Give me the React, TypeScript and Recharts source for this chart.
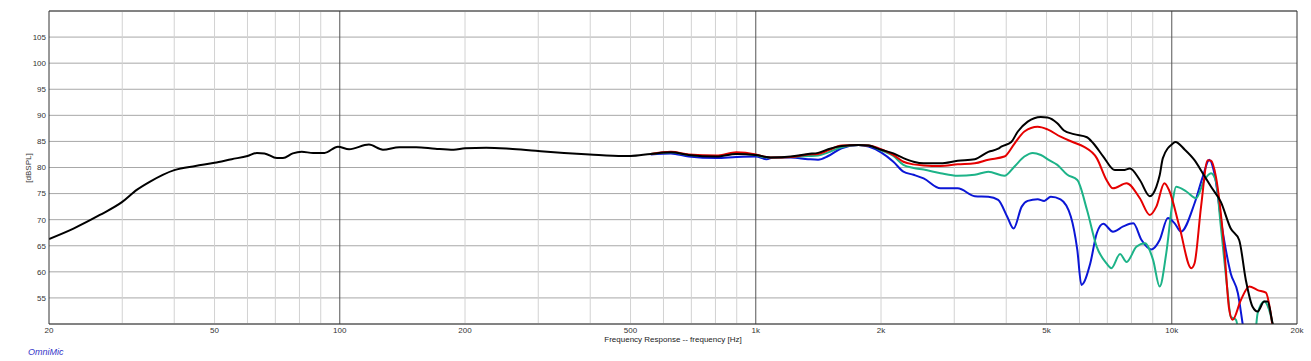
import { LineChart, Line, XAxis, YAxis, CartesianGrid, ReferenceLine } from "recharts";

// frequency [Hz] / level [dBSPL]
const blackFreq = [20, 22.9, 26.5, 30, 32.5, 35, 40, 45, 50, 55, 60, 63.2, 65.9, 70.6, 73, 77.1, 81, 86.3, 91.9, 99, 105.3, 117.5, 127, 139, 152.6, 169.6, 187.8, 200, 225, 256, 296, 346, 399, 480, 500, 559, 625, 690, 804, 898, 1000, 1061, 1103, 1214, 1336, 1412, 1493, 1608, 1766, 1867, 2000, 2142, 2264, 2395, 2532, 2780, 3058, 3362, 3623, 3826, 3892, 4113, 4266, 4505, 4846, 5026, 5307, 5506, 5815, 6253, 6483, 6845, 7300, 7644, 7931, 8380, 8855, 9180, 9352, 9519, 10060, 10200, 10750, 11340, 11870, 12430, 13120, 13860, 14520, 15070, 15640, 16080, 16680, 17000, 17480, 17800];
const blackDb = [66.3, 68.3, 70.9, 73.4, 75.7, 77.3, 79.5, 80.3, 80.9, 81.6, 82.2, 82.8, 82.7, 81.8, 81.8, 82.7, 83.0, 82.8, 82.8, 84.0, 83.5, 84.4, 83.4, 83.9, 83.9, 83.6, 83.4, 83.7, 83.8, 83.6, 83.2, 82.8, 82.5, 82.2, 82.2, 82.6, 82.9, 82.4, 82.1, 82.6, 82.4, 82.0, 81.9, 82.1, 82.6, 82.8, 83.5, 84.1, 84.3, 84.2, 83.4, 82.7, 81.8, 81.1, 80.8, 80.8, 81.3, 81.6, 83.0, 83.6, 84.0, 84.9, 86.9, 88.8, 89.7, 89.6, 88.5, 87.1, 86.4, 85.8, 84.6, 82.1, 79.5, 79.5, 79.8, 77.6, 74.5, 76.3, 78.5, 81.8, 84.6, 84.9, 83.4, 81.4, 78.9, 76.3, 73.4, 68.3, 66.1, 58.4, 53.3, 52.4, 54.3, 54.3, 50.1, 48];

const redFreq = [559, 625, 690, 804, 898, 1000, 1061, 1103, 1214, 1336, 1412, 1493, 1608, 1766, 1867, 2000, 2142, 2264, 2395, 2532, 2780, 3058, 3362, 3623, 3960, 4188, 4423, 4761, 5026, 5402, 5815, 6140, 6602, 6969, 7220, 7787, 8380, 8855, 9180, 9600, 9870, 10430, 11140, 11340, 11760, 12200, 12430, 12770, 13360, 13730, 14000, 14660, 15360, 16080, 16840, 17240, 17480, 17700];
const redDb = [82.6, 83.0, 82.5, 82.3, 82.9, 82.5, 82.0, 81.9, 82.0, 82.5, 82.6, 83.3, 84.2, 84.3, 84.2, 83.5, 82.4, 81.1, 80.6, 80.4, 80.3, 80.6, 80.8, 81.5, 82.1, 84.6, 86.9, 87.8, 87.3, 85.9, 84.8, 84.0, 81.8, 77.6, 76.0, 77.0, 74.1, 70.9, 72.5, 77.0, 75.5, 68.7, 60.7, 61.6, 72.5, 81.4, 81.3, 78.2, 64.8, 53.0, 50.8, 54.6, 57.2, 56.5, 56.0, 52.7, 49.5, 47];

const greenFreq = [559, 625, 690, 804, 898, 1000, 1061, 1103, 1214, 1336, 1412, 1493, 1608, 1766, 1867, 2000, 2142, 2264, 2395, 2532, 2780, 3058, 3362, 3623, 3960, 4188, 4423, 4631, 4846, 5072, 5307, 5612, 5928, 6253, 6602, 6969, 7158, 7511, 7787, 8221, 8620, 9016, 9352, 9700, 10060, 10240, 10840, 11440, 11980, 12430, 12770, 13120, 13610, 13860, 14270, 14600, 15800, 16080, 16680, 17000, 17480, 17700];
const greenDb = [82.6, 82.9, 82.4, 82.2, 82.7, 82.4, 81.9, 81.9, 82.0, 82.2, 82.3, 82.9, 83.9, 84.3, 84.2, 83.3, 82.2, 80.5, 79.9, 79.6, 78.9, 78.4, 78.6, 79.2, 78.4, 80.2, 82.1, 82.8, 82.4, 81.4, 80.5, 78.6, 77.6, 71.9, 64.8, 61.6, 60.7, 63.4, 61.9, 64.8, 65.5, 62.3, 57.2, 63.6, 73.8, 76.3, 75.4, 74.1, 77.6, 78.9, 77.3, 68.7, 56.5, 51.4, 50.8, 47, 47, 52.0, 54.3, 53.5, 49.8, 47];

const blueFreq = [559, 625, 690, 804, 898, 1000, 1061, 1103, 1214, 1336, 1412, 1493, 1608, 1766, 1867, 2000, 2142, 2264, 2395, 2532, 2780, 3058, 3362, 3623, 3826, 4020, 4166, 4358, 4505, 4761, 4936, 5119, 5402, 5719, 5928, 6064, 6368, 6602, 6845, 7220, 7644, 8081, 8458, 8937, 9352, 9788, 10160, 10520, 11340, 11870, 12310, 12660, 13240, 13860, 14420, 14800, 15000];
const blueDb = [82.5, 82.7, 82.1, 81.8, 82.0, 82.1, 81.6, 81.9, 81.9, 81.6, 81.5, 82.2, 83.7, 84.3, 84.0, 82.9, 81.1, 79.2, 78.6, 77.9, 76.0, 76.0, 74.5, 74.4, 73.8, 70.6, 68.3, 72.5, 73.6, 73.9, 73.6, 74.4, 73.9, 70.6, 64.2, 57.5, 61.6, 67.4, 69.2, 67.7, 68.7, 69.3, 66.1, 64.3, 66.1, 70.3, 69.3, 67.7, 73.1, 78.2, 81.5, 78.9, 68.0, 59.7, 55.9, 50.1, 47];

const xTicks = [20, 50, 100, 200, 500, 1000, 2000, 5000, 10000, 20000];
const yTicks = [55, 60, 65, 70, 75, 80, 85, 90, 95, 100, 105];
const minorGrid = [30, 40, 50, 60, 70, 80, 90, 200, 300, 400, 500, 600, 700, 800, 900, 2000, 3000, 4000, 5000, 6000, 7000, 8000, 9000];
const majorGrid = [100, 1000, 10000];

const zip = (fs: number[], ds: number[]) => fs.map((f, i) => ({ f, db: ds[i] }));

const font = "'Liberation Sans', Arial, sans-serif";
const tickStyle = { fill: "#333", fontSize: 8, fontFamily: font };

const fmtHz = (v: number) => (v >= 1000 ? `${v / 1000}k` : `${v}`);

export default function App() {
  return (
    <div style={{ position: "absolute", left: 0, top: 0, width: 1311, height: 361, background: "#fff" }}>
      <LineChart width={1311} height={361} margin={{ top: 11, right: 14, bottom: 0, left: 0 }}>
        <CartesianGrid vertical={false} stroke="#a8a8a8" />
        {minorGrid.map((f) => (
          <ReferenceLine key={"m" + f} x={f} stroke="#d2d2d2" />
        ))}
        {majorGrid.map((f) => (
          <ReferenceLine key={"M" + f} x={f} stroke="#555" />
        ))}
        <ReferenceLine y={110} stroke="#333" />
        <ReferenceLine x={20000} stroke="#333" />
        <XAxis
          dataKey="f"
          type="number"
          scale="log"
          domain={[20, 20000]}
          ticks={xTicks}
          tickFormatter={fmtHz}
          allowDataOverflow
          height={37}
          tickLine={false}
          tickSize={0}
          tickMargin={3}
          stroke="#333"
          tick={tickStyle}
          label={{
            value: "Frequency Response -- frequency [Hz]",
            position: "insideBottom",
            offset: 19,
            style: { fill: "#222", fontSize: 8, fontFamily: font },
          }}
        />
        <YAxis
          type="number"
          domain={[50, 110]}
          ticks={yTicks}
          allowDataOverflow
          width={49}
          tickLine={false}
          tickSize={0}
          tickMargin={3}
          stroke="#333"
          tick={tickStyle}
        />
        <Line data={zip(blueFreq, blueDb)} dataKey="db" stroke="#0b16d6" strokeWidth={2} dot={false} type="monotone" isAnimationActive={false} />
        <Line data={zip(greenFreq, greenDb)} dataKey="db" stroke="#1db388" strokeWidth={2} dot={false} type="monotone" isAnimationActive={false} />
        <Line data={zip(redFreq, redDb)} dataKey="db" stroke="#e50000" strokeWidth={2} dot={false} type="monotone" isAnimationActive={false} />
        <Line data={zip(blackFreq, blackDb)} dataKey="db" stroke="#000" strokeWidth={2} dot={false} type="monotone" isAnimationActive={false} />
      </LineChart>
      <div
        style={{
          position: "absolute",
          left: 28,
          top: 168,
          transform: "translate(-50%, -50%) rotate(-90deg)",
          fontFamily: font,
          fontSize: 8,
          color: "#333",
          whiteSpace: "nowrap",
        }}
      >
        [dBSPL]
      </div>
      <div
        style={{
          position: "absolute",
          left: 28,
          top: 347,
          fontFamily: font,
          fontSize: 9,
          fontStyle: "italic",
          color: "#3535c8",
          whiteSpace: "nowrap",
        }}
      >
        OmniMic
      </div>
    </div>
  );
}
